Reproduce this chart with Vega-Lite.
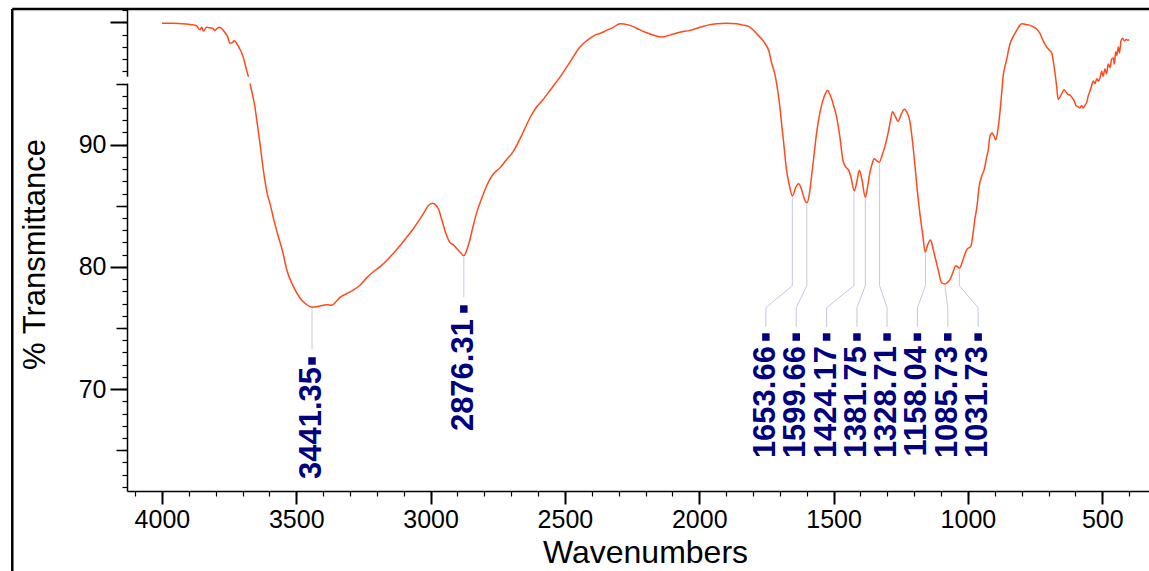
{
  "$schema": "https://vega.github.io/schema/vega-lite/v6.json",
  "width": 1022,
  "height": 482,
  "autosize": {"type": "none"},
  "padding": {"left": 127, "top": 9, "right": 0, "bottom": 80},
  "background": "white",
  "config": {
    "view": {"stroke": null},
    "axis": {
      "labelFont": "Liberation Sans",
      "titleFont": "Liberation Sans",
      "labelColor": "black",
      "titleColor": "black",
      "domainColor": "black",
      "tickColor": "black",
      "grid": false,
      "labelOverlap": false,
      "labelFlush": false
    }
  },
  "datasets": {
    "spectrum": [
      {"wn": 4000, "t": 99.93}, {"wn": 3960, "t": 99.93}, {"wn": 3930, "t": 99.9}, {"wn": 3900, "t": 99.85},
      {"wn": 3883, "t": 99.8}, {"wn": 3870, "t": 99.7}, {"wn": 3859, "t": 99.4}, {"wn": 3852, "t": 99.6},
      {"wn": 3845, "t": 99.3}, {"wn": 3834, "t": 99.6}, {"wn": 3820, "t": 99.55}, {"wn": 3810, "t": 99.5},
      {"wn": 3803, "t": 99.35}, {"wn": 3795, "t": 99.5}, {"wn": 3787, "t": 99.6}, {"wn": 3775, "t": 99.45},
      {"wn": 3766, "t": 99.2}, {"wn": 3755, "t": 98.8}, {"wn": 3747, "t": 98.3}, {"wn": 3738, "t": 98.35},
      {"wn": 3731, "t": 98.5}, {"wn": 3722, "t": 98.3}, {"wn": 3712, "t": 97.9}, {"wn": 3703, "t": 97.5},
      {"wn": 3694, "t": 96.9}, {"wn": 3685, "t": 96.1}, {"wn": 3676, "t": 95.4}, {"wn": 3670, "t": 94.8},
      {"wn": 3662, "t": 94.0}, {"wn": 3654, "t": 93.1}, {"wn": 3645, "t": 91.7}, {"wn": 3635, "t": 90.1},
      {"wn": 3626, "t": 88.5}, {"wn": 3617, "t": 87.1}, {"wn": 3608, "t": 86.0}, {"wn": 3598, "t": 85.2},
      {"wn": 3583, "t": 83.8}, {"wn": 3567, "t": 82.5}, {"wn": 3550, "t": 81.2}, {"wn": 3536, "t": 79.8},
      {"wn": 3511, "t": 78.4}, {"wn": 3486, "t": 77.45}, {"wn": 3461, "t": 76.9}, {"wn": 3441, "t": 76.7},
      {"wn": 3412, "t": 76.8}, {"wn": 3387, "t": 76.9}, {"wn": 3368, "t": 76.85}, {"wn": 3350, "t": 77.2},
      {"wn": 3337, "t": 77.5}, {"wn": 3313, "t": 77.8}, {"wn": 3288, "t": 78.1}, {"wn": 3263, "t": 78.5},
      {"wn": 3238, "t": 79.1}, {"wn": 3213, "t": 79.6}, {"wn": 3189, "t": 80.0}, {"wn": 3164, "t": 80.5},
      {"wn": 3139, "t": 81.1}, {"wn": 3115, "t": 81.7}, {"wn": 3090, "t": 82.4}, {"wn": 3065, "t": 83.1},
      {"wn": 3040, "t": 83.9}, {"wn": 3020, "t": 84.6}, {"wn": 3009, "t": 85.0}, {"wn": 2993, "t": 85.2},
      {"wn": 2980, "t": 85.05}, {"wn": 2972, "t": 84.8}, {"wn": 2960, "t": 84.0}, {"wn": 2947, "t": 83.0},
      {"wn": 2928, "t": 82.0}, {"wn": 2915, "t": 81.8}, {"wn": 2903, "t": 81.5}, {"wn": 2890, "t": 81.2},
      {"wn": 2876, "t": 80.9}, {"wn": 2865, "t": 81.4}, {"wn": 2854, "t": 82.2}, {"wn": 2842, "t": 83.3},
      {"wn": 2829, "t": 84.4}, {"wn": 2810, "t": 85.6}, {"wn": 2792, "t": 86.6}, {"wn": 2770, "t": 87.5},
      {"wn": 2742, "t": 88.1}, {"wn": 2720, "t": 88.7}, {"wn": 2692, "t": 89.45}, {"wn": 2660, "t": 90.8},
      {"wn": 2630, "t": 92.2}, {"wn": 2605, "t": 93.1}, {"wn": 2581, "t": 93.7}, {"wn": 2550, "t": 94.6},
      {"wn": 2519, "t": 95.5}, {"wn": 2480, "t": 96.8}, {"wn": 2444, "t": 98.0}, {"wn": 2425, "t": 98.4},
      {"wn": 2407, "t": 98.7}, {"wn": 2385, "t": 99.0}, {"wn": 2370, "t": 99.1}, {"wn": 2345, "t": 99.35},
      {"wn": 2320, "t": 99.6}, {"wn": 2295, "t": 99.9}, {"wn": 2264, "t": 99.8}, {"wn": 2235, "t": 99.55},
      {"wn": 2209, "t": 99.27}, {"wn": 2175, "t": 99.0}, {"wn": 2140, "t": 98.8}, {"wn": 2105, "t": 99.0},
      {"wn": 2072, "t": 99.2}, {"wn": 2035, "t": 99.35}, {"wn": 1997, "t": 99.6}, {"wn": 1965, "t": 99.8},
      {"wn": 1935, "t": 99.9}, {"wn": 1900, "t": 99.93}, {"wn": 1861, "t": 99.9}, {"wn": 1840, "t": 99.8},
      {"wn": 1818, "t": 99.7}, {"wn": 1800, "t": 99.4}, {"wn": 1787, "t": 99.1}, {"wn": 1770, "t": 98.7},
      {"wn": 1756, "t": 98.3}, {"wn": 1740, "t": 97.6}, {"wn": 1731, "t": 96.7}, {"wn": 1720, "t": 95.9},
      {"wn": 1712, "t": 95.0}, {"wn": 1700, "t": 93.1}, {"wn": 1693, "t": 91.6}, {"wn": 1687, "t": 90.4},
      {"wn": 1675, "t": 87.9}, {"wn": 1665, "t": 86.7}, {"wn": 1653, "t": 85.8}, {"wn": 1641, "t": 86.5},
      {"wn": 1630, "t": 86.8}, {"wn": 1620, "t": 86.4}, {"wn": 1608, "t": 85.5}, {"wn": 1599, "t": 85.25},
      {"wn": 1590, "t": 86.0}, {"wn": 1582, "t": 87.4}, {"wn": 1572, "t": 89.3}, {"wn": 1563, "t": 91.0},
      {"wn": 1551, "t": 92.6}, {"wn": 1540, "t": 93.6}, {"wn": 1530, "t": 94.2}, {"wn": 1522, "t": 94.45},
      {"wn": 1514, "t": 94.1}, {"wn": 1508, "t": 93.8}, {"wn": 1500, "t": 93.2}, {"wn": 1489, "t": 92.3},
      {"wn": 1477, "t": 90.7}, {"wn": 1464, "t": 88.6}, {"wn": 1452, "t": 88.1}, {"wn": 1445, "t": 87.95},
      {"wn": 1435, "t": 87.3}, {"wn": 1423, "t": 86.2}, {"wn": 1414, "t": 86.9}, {"wn": 1404, "t": 87.9},
      {"wn": 1395, "t": 87.2}, {"wn": 1382, "t": 85.7}, {"wn": 1373, "t": 86.6}, {"wn": 1365, "t": 87.7},
      {"wn": 1357, "t": 88.4}, {"wn": 1349, "t": 88.85}, {"wn": 1340, "t": 88.7}, {"wn": 1330, "t": 88.55},
      {"wn": 1320, "t": 89.1}, {"wn": 1309, "t": 89.86}, {"wn": 1297, "t": 90.96}, {"wn": 1288, "t": 92.0},
      {"wn": 1281, "t": 92.7}, {"wn": 1270, "t": 92.3}, {"wn": 1260, "t": 91.9}, {"wn": 1248, "t": 92.5},
      {"wn": 1237, "t": 92.9}, {"wn": 1226, "t": 92.6}, {"wn": 1216, "t": 91.9}, {"wn": 1207, "t": 90.4},
      {"wn": 1198, "t": 88.5}, {"wn": 1189, "t": 86.4}, {"wn": 1179, "t": 84.4}, {"wn": 1168, "t": 82.6},
      {"wn": 1159, "t": 81.2}, {"wn": 1150, "t": 81.8}, {"wn": 1139, "t": 82.2}, {"wn": 1130, "t": 81.5},
      {"wn": 1120, "t": 80.6}, {"wn": 1108, "t": 79.5}, {"wn": 1098, "t": 78.7}, {"wn": 1085, "t": 78.6},
      {"wn": 1075, "t": 78.75}, {"wn": 1067, "t": 78.95}, {"wn": 1055, "t": 79.6}, {"wn": 1045, "t": 80.1},
      {"wn": 1038, "t": 80.0}, {"wn": 1031, "t": 79.9}, {"wn": 1018, "t": 80.6}, {"wn": 1005, "t": 81.4},
      {"wn": 989, "t": 81.7}, {"wn": 980, "t": 82.9}, {"wn": 974, "t": 83.9}, {"wn": 966, "t": 85.0},
      {"wn": 958, "t": 86.6}, {"wn": 949, "t": 87.4}, {"wn": 939, "t": 88.0}, {"wn": 930, "t": 89.0},
      {"wn": 924, "t": 89.6}, {"wn": 918, "t": 90.7}, {"wn": 910, "t": 90.96}, {"wn": 903, "t": 90.7},
      {"wn": 896, "t": 90.4}, {"wn": 888, "t": 91.3}, {"wn": 881, "t": 92.6}, {"wn": 874, "t": 94.3},
      {"wn": 869, "t": 95.6}, {"wn": 862, "t": 96.4}, {"wn": 856, "t": 96.96}, {"wn": 844, "t": 98.2},
      {"wn": 835, "t": 98.7}, {"wn": 825, "t": 99.1}, {"wn": 812, "t": 99.6}, {"wn": 800, "t": 99.9},
      {"wn": 787, "t": 99.85}, {"wn": 775, "t": 99.8}, {"wn": 762, "t": 99.7}, {"wn": 750, "t": 99.55},
      {"wn": 740, "t": 99.35}, {"wn": 732, "t": 99.1}, {"wn": 722, "t": 98.6}, {"wn": 713, "t": 98.2},
      {"wn": 700, "t": 97.8}, {"wn": 695, "t": 97.7}, {"wn": 688, "t": 97.5}, {"wn": 682, "t": 96.8},
      {"wn": 676, "t": 95.9}, {"wn": 670, "t": 94.8}, {"wn": 664, "t": 93.7}, {"wn": 655, "t": 94.0},
      {"wn": 648, "t": 94.3}, {"wn": 642, "t": 94.5}, {"wn": 635, "t": 94.3}, {"wn": 627, "t": 94.1},
      {"wn": 620, "t": 94.05}, {"wn": 614, "t": 93.9}, {"wn": 605, "t": 93.6}, {"wn": 598, "t": 93.2},
      {"wn": 590, "t": 93.1}, {"wn": 583, "t": 93.0}, {"wn": 577, "t": 93.2}, {"wn": 571, "t": 93.0},
      {"wn": 565, "t": 93.2}, {"wn": 558, "t": 93.46}, {"wn": 552, "t": 94.0}, {"wn": 546, "t": 94.36},
      {"wn": 540, "t": 94.8}, {"wn": 533, "t": 95.2}, {"wn": 527, "t": 95.0}, {"wn": 520, "t": 95.4},
      {"wn": 515, "t": 95.2}, {"wn": 508, "t": 95.5}, {"wn": 502, "t": 96.0}, {"wn": 497, "t": 95.6},
      {"wn": 490, "t": 96.2}, {"wn": 484, "t": 95.8}, {"wn": 478, "t": 96.6}, {"wn": 471, "t": 96.3},
      {"wn": 465, "t": 97.0}, {"wn": 459, "t": 97.1}, {"wn": 455, "t": 96.6}, {"wn": 450, "t": 97.6},
      {"wn": 446, "t": 97.3}, {"wn": 440, "t": 98.0}, {"wn": 436, "t": 97.5}, {"wn": 430, "t": 98.5},
      {"wn": 424, "t": 98.7}, {"wn": 418, "t": 98.5}, {"wn": 411, "t": 98.6}, {"wn": 405, "t": 98.55},
      {"wn": 400, "t": 98.6}
    ],
    "leaders": [
      {"id": "3441.35", "seq": 0, "wn": 3441.35, "t": 76.6}, {"id": "3441.35", "seq": 1, "wn": 3441.35, "t": 73.28},
      {"id": "2876.31", "seq": 0, "wn": 2876.31, "t": 80.8}, {"id": "2876.31", "seq": 1, "wn": 2876.31, "t": 77.53},
      {"id": "1653.66", "seq": 0, "wn": 1653.66, "t": 85.7}, {"id": "1653.66", "seq": 1, "wn": 1653.66, "t": 78.46}, {"id": "1653.66", "seq": 2, "wn": 1752, "t": 76.66}, {"id": "1653.66", "seq": 3, "wn": 1752, "t": 75.1},
      {"id": "1599.66", "seq": 0, "wn": 1599.66, "t": 85.1}, {"id": "1599.66", "seq": 1, "wn": 1599.66, "t": 78.46}, {"id": "1599.66", "seq": 2, "wn": 1639, "t": 76.66}, {"id": "1599.66", "seq": 3, "wn": 1639, "t": 75.1},
      {"id": "1424.17", "seq": 0, "wn": 1424.17, "t": 86.1}, {"id": "1424.17", "seq": 1, "wn": 1424.17, "t": 78.46}, {"id": "1424.17", "seq": 2, "wn": 1526, "t": 76.66}, {"id": "1424.17", "seq": 3, "wn": 1526, "t": 75.1},
      {"id": "1381.75", "seq": 0, "wn": 1381.75, "t": 85.6}, {"id": "1381.75", "seq": 1, "wn": 1381.75, "t": 78.46}, {"id": "1381.75", "seq": 2, "wn": 1413, "t": 76.66}, {"id": "1381.75", "seq": 3, "wn": 1413, "t": 75.1},
      {"id": "1328.71", "seq": 0, "wn": 1328.71, "t": 88.4}, {"id": "1328.71", "seq": 1, "wn": 1328.71, "t": 78.46}, {"id": "1328.71", "seq": 2, "wn": 1301, "t": 76.66}, {"id": "1328.71", "seq": 3, "wn": 1301, "t": 75.1},
      {"id": "1158.04", "seq": 0, "wn": 1158.04, "t": 81.1}, {"id": "1158.04", "seq": 1, "wn": 1158.04, "t": 78.46}, {"id": "1158.04", "seq": 2, "wn": 1188, "t": 76.66}, {"id": "1158.04", "seq": 3, "wn": 1188, "t": 75.1},
      {"id": "1085.73", "seq": 0, "wn": 1085.73, "t": 78.5}, {"id": "1085.73", "seq": 1, "wn": 1085.73, "t": 78.46}, {"id": "1085.73", "seq": 2, "wn": 1075, "t": 76.66}, {"id": "1085.73", "seq": 3, "wn": 1075, "t": 75.1},
      {"id": "1031.73", "seq": 0, "wn": 1031.73, "t": 79.8}, {"id": "1031.73", "seq": 1, "wn": 1031.73, "t": 78.46}, {"id": "1031.73", "seq": 2, "wn": 962, "t": 76.66}, {"id": "1031.73", "seq": 3, "wn": 962, "t": 75.1}
    ],
    "labels": [
      {"label": "3441.35", "lx": 3441.35, "sq": 72.3, "ty": 71.81},
      {"label": "2876.31", "lx": 2876.31, "sq": 76.55, "ty": 75.73},
      {"label": "1653.66", "lx": 1752, "sq": 74.26, "ty": 73.52},
      {"label": "1599.66", "lx": 1639, "sq": 74.26, "ty": 73.52},
      {"label": "1424.17", "lx": 1526, "sq": 74.26, "ty": 73.52},
      {"label": "1381.75", "lx": 1413, "sq": 74.26, "ty": 73.52},
      {"label": "1328.71", "lx": 1301, "sq": 74.26, "ty": 73.52},
      {"label": "1158.04", "lx": 1188, "sq": 74.26, "ty": 73.52},
      {"label": "1085.73", "lx": 1075, "sq": 74.26, "ty": 73.52},
      {"label": "1031.73", "lx": 962, "sq": 74.26, "ty": 73.52}
    ],
    "single": [{}]
  },
  "layer": [
    {
      "data": {"name": "single"},
      "mark": {"type": "rule", "color": "black", "strokeWidth": 2.5},
      "encoding": {
        "x": {"datum": 4557, "type": "quantitative", "scale": {"domain": [326, 4130], "reverse": true, "nice": false, "zero": false}, "axis": null},
        "y": {"datum": 101.1, "type": "quantitative", "scale": {"domain": [61.66, 101.1], "nice": false, "zero": false}, "axis": null},
        "y2": {"datum": 54}
      }
    },
    {
      "data": {"name": "single"},
      "mark": {"type": "rule", "color": "black", "strokeWidth": 2.5},
      "encoding": {
        "x": {"datum": 4557, "type": "quantitative", "scale": {"domain": [326, 4130], "reverse": true, "nice": false, "zero": false}, "axis": null},
        "x2": {"datum": 326},
        "y": {"datum": 101.1, "type": "quantitative", "scale": {"domain": [61.66, 101.1], "nice": false, "zero": false}, "axis": null}
      }
    },
    {
      "data": {"name": "spectrum"},
      "mark": {"type": "line", "color": "#ff4a1c", "strokeWidth": 1.5, "interpolate": "monotone"},
      "encoding": {
        "x": {
          "field": "wn", "type": "quantitative",
          "scale": {"domain": [326, 4130], "reverse": true, "nice": false, "zero": false},
          "axis": {
            "orient": "bottom", "values": [4000, 3500, 3000, 2500, 2000, 1500, 1000, 500], "format": "d",
            "tickSize": 13, "tickWidth": 2, "domainWidth": 1.5, "labelFontSize": 25, "labelPadding": 3,
            "title": "Wavenumbers", "titleFontSize": 32, "titleFontWeight": "normal",
            "titleX": 518, "titleY": 71, "titleBaseline": "alphabetic", "titleAlign": "center"
          }
        },
        "y": {
          "field": "t", "type": "quantitative",
          "scale": {"domain": [61.66, 101.1], "nice": false, "zero": false},
          "axis": {
            "orient": "left", "values": [70, 80, 90, 100],
            "labelExpr": "datum.value == 100 ? '' : datum.label",
            "tickSize": 17, "tickWidth": 2, "domainWidth": 1.5, "labelFontSize": 25, "labelPadding": 4,
            "title": "% Transmittance", "titleFontSize": 31, "titleFontWeight": "normal",
            "titleAngle": 270, "titleX": -92, "titleY": 245, "titleBaseline": "middle", "titleAlign": "center"
          }
        }
      }
    },
    {
      "data": {"name": "leaders"},
      "mark": {"type": "line", "color": "#c6c6e6", "strokeWidth": 1},
      "encoding": {
        "x": {
          "field": "wn", "type": "quantitative",
          "scale": {"domain": [326, 4130], "reverse": true, "nice": false, "zero": false},
          "axis": {
            "orient": "bottom",
            "values": [4100, 4000, 3900, 3800, 3700, 3600, 3500, 3400, 3300, 3200, 3100, 3000, 2900, 2800, 2700, 2600, 2500, 2400, 2300, 2200, 2100, 2000, 1900, 1800, 1700, 1600, 1500, 1400, 1300, 1200, 1100, 1000, 900, 800, 700, 600, 500, 400],
            "tickSize": 5, "tickWidth": 1.2, "domain": false, "labels": false, "title": null
          }
        },
        "y": {
          "field": "t", "type": "quantitative",
          "scale": {"domain": [61.66, 101.1], "nice": false, "zero": false},
          "axis": {
            "orient": "left",
            "values": [62, 63, 64, 65, 66, 67, 68, 69, 70, 71, 72, 73, 74, 75, 76, 77, 78, 79, 80, 81, 82, 83, 84, 85, 86, 87, 88, 89, 90, 91, 92, 93, 94, 95, 96, 97, 98, 99, 100, 101],
            "tickSize": 5, "tickWidth": 1.2, "domain": false, "labels": false, "title": null
          }
        },
        "detail": {"field": "id"},
        "order": {"field": "seq", "type": "quantitative"}
      }
    },
    {
      "data": {"name": "labels"},
      "mark": {"type": "point", "shape": "square", "filled": true, "size": 56, "color": "#000080", "opacity": 1},
      "encoding": {
        "x": {"field": "lx", "type": "quantitative", "scale": {"domain": [326, 4130], "reverse": true, "nice": false, "zero": false}, "axis": null},
        "y": {
          "field": "sq", "type": "quantitative",
          "scale": {"domain": [61.66, 101.1], "nice": false, "zero": false},
          "axis": {"orient": "left", "values": [65, 75, 85, 95], "tickSize": 11, "tickWidth": 1.5, "domain": false, "labels": false, "title": null}
        }
      }
    },
    {
      "data": {"name": "labels"},
      "mark": {"type": "text", "angle": 270, "align": "right", "baseline": "middle", "font": "Liberation Sans", "fontSize": 31, "fontWeight": "bold", "color": "#000080"},
      "encoding": {
        "x": {"field": "lx", "type": "quantitative", "scale": {"domain": [326, 4130], "reverse": true, "nice": false, "zero": false}, "axis": null},
        "y": {"field": "ty", "type": "quantitative", "scale": {"domain": [61.66, 101.1], "nice": false, "zero": false}, "axis": null},
        "text": {"field": "label"}
      }
    },
    {
      "data": {"name": "single"},
      "mark": {"type": "rect", "color": "white", "opacity": 1},
      "encoding": {
        "x": {"datum": 4136, "type": "quantitative", "scale": {"domain": [326, 4130], "reverse": true, "nice": false, "zero": false}, "axis": null},
        "x2": {"datum": 3650},
        "y": {"datum": 95.0, "type": "quantitative", "scale": {"domain": [61.66, 101.1], "nice": false, "zero": false}, "axis": null},
        "y2": {"datum": 95.56}
      }
    }
  ],
  "resolve": {"axis": {"x": "independent", "y": "independent"}}
}
